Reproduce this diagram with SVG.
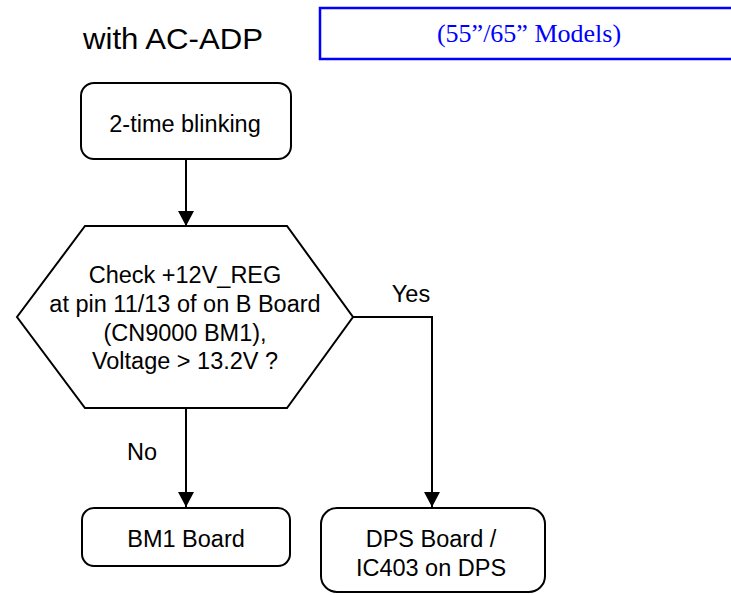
<svg xmlns="http://www.w3.org/2000/svg" width="731" height="595" viewBox="0 0 731 595">
<style>
.box{fill:#fff;stroke:#000;stroke-width:2}
.t{font-family:"Liberation Sans",Arial,sans-serif;font-size:23.5px;fill:#000;text-anchor:middle}
.ln{fill:none;stroke:#000;stroke-width:2}
</style>
<defs>
<marker id="ah" markerWidth="16" markerHeight="16" refX="15" refY="8" orient="auto" markerUnits="userSpaceOnUse">
<path d="M0,0 L15,8 L0,16 Z" fill="#000"/>
</marker>
</defs>
<rect width="731" height="595" fill="#fff"/>
<g id="title">
<text x="83" y="49" font-family="Liberation Sans, Arial, sans-serif" font-size="29" textLength="180" lengthAdjust="spacingAndGlyphs">with AC-ADP</text>
</g>
<g id="models">
<rect x="320" y="8" width="420" height="51" fill="#fff" stroke="#0000ff" stroke-width="2.5"/>
<text x="529" y="42" font-family="Liberation Serif, 'Times New Roman', serif" font-size="26" fill="#0000ff" text-anchor="middle">(55”/65” Models)</text>
</g>
<g id="connectors">
<line class="ln" x1="186" y1="159" x2="186" y2="226" marker-end="url(#ah)"/>
<polyline class="ln" points="353,317 432,317 432,507" marker-end="url(#ah)"/>
<line class="ln" x1="186" y1="408" x2="186" y2="507" marker-end="url(#ah)"/>
<text class="t" x="411" y="302">Yes</text>
<text class="t" x="142" y="460">No</text>
</g>
<g id="start">
<rect class="box" x="81" y="83" width="210" height="76" rx="13"/>
<text class="t" x="185" y="132">2-time blinking</text>
</g>
<g id="check">
<polygon class="box" points="85,226 287,226 353,317 287,408 85,408 17,317"/>
<text class="t" x="185" y="283">Check +12V_REG</text>
<text class="t" x="185" y="312">at pin 11/13 of on B Board</text>
<text class="t" x="185" y="341">(CN9000 BM1),</text>
<text class="t" x="185" y="369">Voltage &gt; 13.2V ?</text>
</g>
<g id="bm1">
<rect class="box" x="82" y="508" width="208" height="58" rx="12"/>
<text class="t" x="186" y="547">BM1 Board</text>
</g>
<g id="dps">
<rect class="box" x="321" y="508" width="224" height="84" rx="16"/>
<text class="t" x="431" y="547">DPS Board /</text>
<text class="t" x="431" y="576">IC403 on DPS</text>
</g>
</svg>
